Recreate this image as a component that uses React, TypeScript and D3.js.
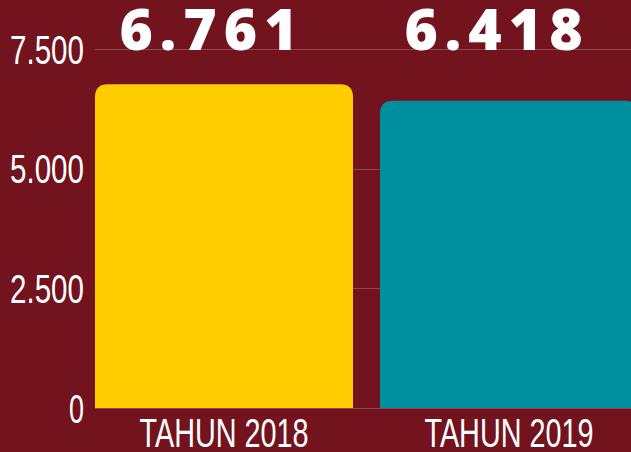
import React from 'react'
import * as d3 from 'd3'

// data
const categories = ['TAHUN 2018', 'TAHUN 2019']
const values = [6761, 6418]
const valueLabels = ['6.761', '6.418']
const barColors = ['#ffcc00', '#008f9f']
const yTicks = [0, 2500, 5000, 7500]
const yTickLabels = ['0', '2.500', '5.000', '7.500']

const W = 631
const H = 452
const BG = '#72131e'
const narrow = '"Liberation Sans Narrow", "Liberation Sans", sans-serif'

// rounded-top bar path
function barPath(x: number, y: number, w: number, h: number, r: number) {
  const rr = Math.min(r, h, w / 2)
  return `M${x},${y + h}V${y + rr}Q${x},${y} ${x + rr},${y}H${x + w - rr}Q${x + w},${y} ${x + w},${y + rr}V${y + h}Z`
}

// rough widths of the condensed labels in the picture
const tickWidth = (s: string) => (s.length === 1 ? 15 : 74)

export default function App() {
  const x = d3.scaleBand().domain(categories).range([95, 638]).paddingInner(0.0947).paddingOuter(0)
  const y = d3.scaleLinear().domain([0, 7500]).range([408, 49])
  const bw = x.bandwidth()

  return (
    <div style={{ position: 'fixed', left: 0, top: 0, width: W, height: H }}>
      <svg width={W} height={H} style={{ display: 'block' }}>
        <rect width={W} height={H} fill={BG} />

        {/* grid */}
        {yTicks.map(t => (
          <line key={t} x1={95} x2={W} y1={Math.round(y(t)) + 0.5} y2={Math.round(y(t)) + 0.5}
            stroke="rgba(255,255,255,0.22)" strokeWidth={1} />
        ))}

        {/* y tick labels */}
        {yTicks.map((t, i) => (
          <text key={t} x={84} y={y(t)} textAnchor="end" dy="0.36em" fill="#ffffff"
            fontFamily={narrow} fontSize={41}
            textLength={tickWidth(yTickLabels[i])} lengthAdjust="spacingAndGlyphs">
            {yTickLabels[i]}
          </text>
        ))}

        {/* bars */}
        {categories.map((c, i) => {
          const bx = x(c) as number
          const by = y(values[i])
          return (
            <path key={c} d={barPath(bx, by, bw, y(0) - by, 13)} fill={barColors[i]} />
          )
        })}

        {/* value labels */}
        {categories.map((c, i) => (
          <text key={c} x={(x(c) as number) + bw / 2 - 12} y={50} textAnchor="middle" fill="#ffffff"
            fontFamily='"Open Sans", sans-serif' fontWeight={800} fontSize={57} letterSpacing={7}>
            {valueLabels[i]}
          </text>
        ))}

        {/* category labels */}
        {categories.map(c => (
          <text key={c} x={(x(c) as number) + bw / 2} y={447} textAnchor="middle" fill="#ffffff"
            fontFamily={narrow} fontSize={41} textLength={169} lengthAdjust="spacingAndGlyphs">
            {c}
          </text>
        ))}
      </svg>
    </div>
  )
}
